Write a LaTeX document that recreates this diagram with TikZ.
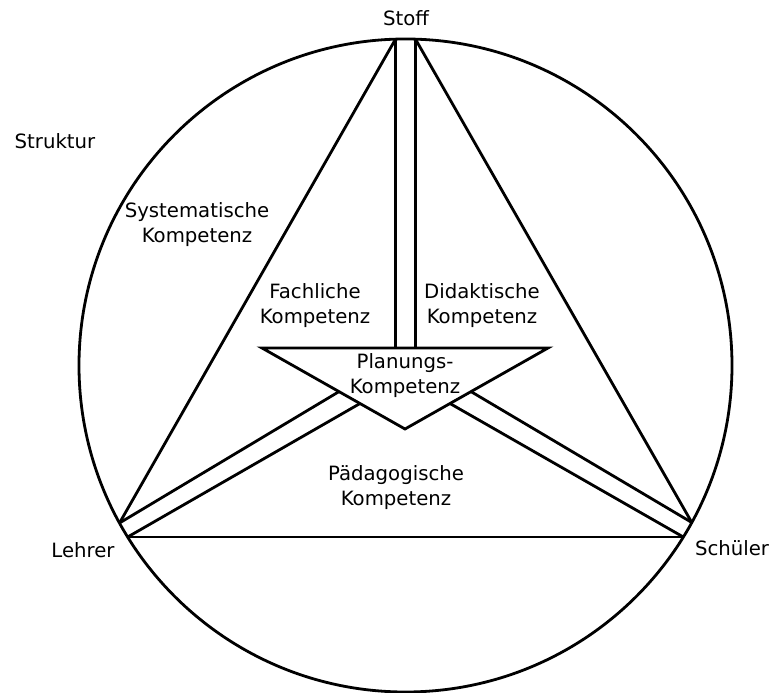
\documentclass[tikz,border=0pt]{standalone}
\usepackage{fontspec}
\setmainfont{DejaVu Sans}
% two centred lines whose baseline is that of the first line
\newcommand\twolines[2]{\begin{tabular}[t]{@{}c@{}}#1\\#2\end{tabular}}
\begin{document}
\begin{tikzpicture}[x=1pt,y=-1pt,
  edge/.style={line width=2.8pt, line join=miter, line cap=butt},
  lbl/.style={anchor=base, inner sep=0pt, font=\fontsize{19.7}{25}\selectfont},
]
\useasboundingbox[fill=white] (0,0) rectangle (772,693);

% outer circle
\coordinate (C) at (405.5,365.5);
\draw[edge] (C) circle[radius=326.5pt];

% corner points on the circle
\coordinate (SL) at (395.5,39.2);
\coordinate (SR) at (415.5,39.2);
\coordinate (L1) at (119.5,523);
\coordinate (L2) at (127.7,537);
\coordinate (S1) at (691.8,522.5);
\coordinate (S2) at (683.3,537);

% inner (planning) triangle
\coordinate (T1) at (262,348);
\coordinate (T2) at (548,348);
\coordinate (T3) at (405,429);
\draw[edge] (T1) -- (T2) -- (T3) -- cycle;

% ends of the vertical band on the top edge
\coordinate (VL) at (395.5,348);
\coordinate (VR) at (415.5,348);
% ends of the lower bands on the slanted edges
\coordinate (U1) at (339,391.6);
\coordinate (U2) at (360,403.5);
\coordinate (W1) at (471,391.6);
\coordinate (W2) at (450,403.5);

% outer triangle
\draw[edge] (SL) -- (L1);
\draw[edge] (SR) -- (S1);
\draw[edge] (L2) -- (S2);

% bands towards the planning triangle
\draw[edge] (SL) -- (VL);
\draw[edge] (SR) -- (VR);
\draw[edge] (L1) -- (U1);
\draw[edge] (L2) -- (U2);
\draw[edge] (S1) -- (W1);
\draw[edge] (S2) -- (W2);

% labels
\node[lbl] (stoff)   at (406,26)  {Stoff};
\node[lbl] (struk)   at (55,149)  {Struktur};
\node[lbl] (lehrer)  at (83,557)  {Lehrer};
\node[lbl] (schueler) at (732,555) {Schüler};
\node[lbl] (syst)    at (197,217) {\twolines{Systematische}{Kompetenz}};
\node[lbl] (fach)    at (315,298) {\twolines{Fachliche}{Kompetenz}};
\node[lbl] (didak)   at (482,298) {\twolines{Didaktische}{Kompetenz}};
\node[lbl] (plan)    at (405,368) {\twolines{Planungs-}{Kompetenz}};
\node[lbl] (paed)    at (396,480) {\twolines{Pädagogische}{Kompetenz}};
\end{tikzpicture}
\end{document}
